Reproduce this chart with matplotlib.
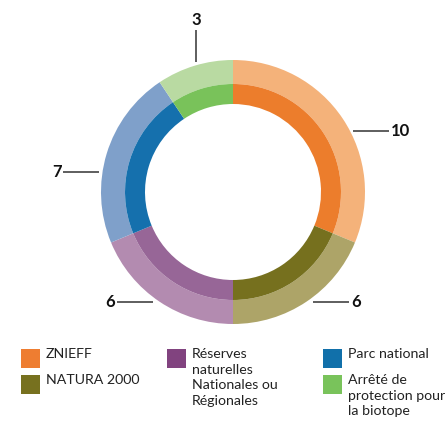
import matplotlib
matplotlib.use("Agg")
import matplotlib.pyplot as plt
from matplotlib.patches import Rectangle

plt.rcParams['font.family'] = ['Lato', 'DejaVu Sans']

categories = ["ZNIEFF", "NATURA 2000", "Réserves\nnaturelles\nNationales ou\nRégionales",
              "Parc national", "Arrêté de\nprotection pour\nla biotope"]
values = [10, 6, 6, 7, 3]
value_labels = ["10", "6", "6", "7", "3"]
dark_colors = ["#EC7D2C", "#76701E", "#976697", "#1570AD", "#79C25A"]
light_colors = ["#F4B27A", "#ADA468", "#B38BB0", "#7FA0CA", "#B9DAA2"]
legend_colors = ["#EE7D31", "#77711F", "#81437F", "#1170AA", "#79C35B"]

W, H = 445, 423
fig = plt.figure(figsize=(W / 100, H / 100), dpi=100)
ax = fig.add_axes([0, 0, 1, 1])

cx, cy = 233, H - 192
ax.pie(values, colors=light_colors, radius=132, center=(cx, cy), startangle=90,
       counterclock=False, wedgeprops=dict(width=24, linewidth=0), frame=True)
ax.pie(values, colors=dark_colors, radius=108, center=(cx, cy), startangle=90,
       counterclock=False, wedgeprops=dict(width=20, linewidth=0), frame=True)
ax.set_xlim(0, W)
ax.set_ylim(0, H)
ax.set_aspect('equal')
ax.axis('off')

# leader lines and value labels (pixel positions, y from top)
line_col = "#333333"
leaders = [
    # (x0, y0, x1, y1, tx, ty, ha, va)
    (353, 131, 389, 131, 391, 131, 'left', 'center'),   # ZNIEFF 10
    (313, 302, 349, 302, 351, 302, 'left', 'center'),   # NATURA 6
    (117, 302, 153, 302, 115, 302, 'right', 'center'),  # Réserves 6
    (63, 172, 99, 172, 62, 172, 'right', 'center'),     # Parc 7
    (196, 30, 196, 62, 196, 28, 'center', 'bottom'),    # Arrêté 3
]
for (x0, y0, x1, y1, tx, ty, ha, va), lab in zip(leaders, value_labels):
    ax.plot([x0, x1], [H - y0, H - y1], color=line_col, lw=1.1, solid_capstyle='butt')
    ax.text(tx, H - ty, lab, ha=ha, va=va, fontsize=12, fontweight='bold', color='#111111')

# legend
legend_pos = [
    (21, 349), (21, 375), (167, 349), (323, 349), (323, 375)
]
for (x, y), lab, col in zip(legend_pos, categories, legend_colors):
    ax.add_patch(Rectangle((x, H - y - 19), 19, 19, facecolor=col, edgecolor='none'))
    ax.text(x + 25, H - y + 1, lab, ha='left', va='top', fontsize=10.2,
            color='#222222', linespacing=1.36)

fig.savefig("out.png", dpi=100)
